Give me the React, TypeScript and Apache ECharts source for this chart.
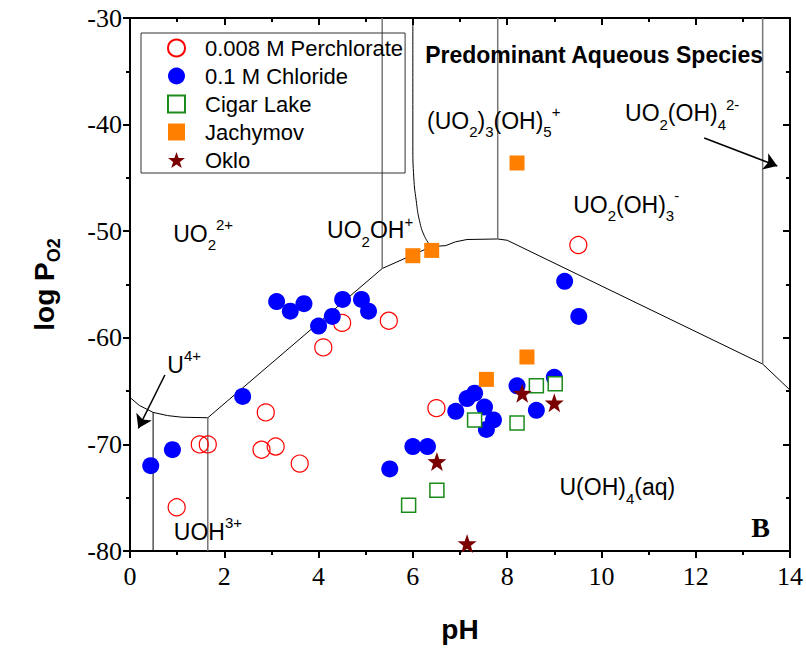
import React, { useEffect, useRef } from 'react';
import * as echarts from 'echarts';

// Measured uranium solubility points: [pH, log PO2]
const perchlorate = [
  [0.99, -75.9], [1.48, -70.0], [1.65, -70.0], [2.88, -67.0], [2.79, -70.5],
  [3.09, -70.2], [3.6, -71.8], [4.1, -60.9], [4.5, -58.6], [5.49, -58.4],
  [6.5, -66.6], [9.51, -51.3],
];
const chloride = [
  [0.44, -72.0], [0.9, -70.5], [2.39, -65.5], [3.11, -56.6], [3.4, -57.5],
  [3.69, -56.8], [4.0, -58.9], [4.29, -58.0], [4.51, -56.4], [4.91, -56.4],
  [5.06, -57.5], [5.51, -72.3], [6.0, -70.2], [6.31, -70.2], [6.91, -66.9],
  [7.15, -65.7], [7.31, -65.2], [7.52, -66.5], [7.71, -67.7], [7.56, -68.6],
  [8.21, -64.5], [8.62, -66.8], [9.0, -63.7], [9.22, -54.7], [9.52, -58.0],
];
const cigarLake = [
  [5.91, -75.7], [6.51, -74.3], [7.31, -67.7], [8.21, -68.0], [8.62, -64.5], [9.02, -64.3],
];
const jachymov = [
  [6.0, -52.3], [6.4, -51.8], [8.21, -43.6], [7.56, -63.9], [8.42, -61.8],
];
const oklo = [
  [6.51, -71.6], [7.15, -79.3], [8.32, -65.2], [9.0, -66.1],
];

// Predominance boundaries
const uivBoundary = [
  [0, -65.6], [0.2, -66.35], [0.49, -67.0], [0.8, -67.3], [1.1, -67.45], [1.65, -67.5],
  [5.35, -53.5], [6.39, -51.45], [6.7, -51.35], [6.9, -51.0], [7.15, -50.78],
  [7.8, -50.73], [8.0, -50.85], [13.42, -62.46], [14, -64.9],
];
const trimerBoundary = [
  [6.0, -30], [6.0, -42], [6.02, -45], [6.07, -47.1], [6.14, -49.0], [6.25, -50.5], [6.39, -51.45],
];
const uBoundary = [[0.49, -67.0], [0.49, -80]];
const uohBoundary = [[1.65, -67.5], [1.65, -80]];
const uo2Boundary = [[5.35, -30], [5.35, -53.5]];
const hydroxo3Boundary = [[7.8, -30], [7.8, -50.73]];
const hydroxo4Boundary = [[13.42, -30], [13.42, -62.46]];

// Species names anchored at their left edge
const speciesLabels = [
  { at: [0.905, -50.22], text: '{m|UO}{b|2}{p|2+}' },
  { at: [4.17, -49.9], text: '{m|UO}{b|2}{m|OH}{p|+}' },
  { at: [6.29, -39.66], text: '{m|(UO}{b|2}{m|)}{b|3}{m|(OH)}{b|5}{p|+}' },
  { at: [10.49, -38.94], text: '{m|UO}{b|2}{m|(OH)}{b|4}{p|2-}' },
  { at: [9.39, -47.54], text: '{m|UO}{b|2}{m|(OH)}{b|3}{p|-}' },
  { at: [0.78, -62.55], text: '{m|U}{p|4+}' },
  { at: [0.92, -78.19], text: '{m|UOH}{p|3+}' },
  { at: [9.1, -74.04], text: '{m|U(OH)}{b|4}{m|(aq)}' },
  { at: [6.25, -33.5], text: '{t|Predominant Aqueous Species}' },
  { at: [13.17, -77.75], text: '{k|B}' },
];

const arrows = [
  [[0.74, -63.49], [0.176, -68.49]],
  [[12.18, -41.26], [13.73, -43.88]],
];

const seriesNames = ['0.008 M Perchlorate', '0.1 M Chloride', 'Cigar Lake', 'Jachymov', 'Oklo'];

const starPath =
  'path://M0,-10L2.35,-3.24L9.51,-3.09L3.8,1.24L5.88,8.09L0,4L-5.88,8.09L-3.8,1.24L-9.51,-3.09L-2.35,-3.24Z';

const SANS = 'Liberation Sans, Arial, sans-serif';
const SERIF = 'Liberation Serif, Times New Roman, serif';

function boundary(data: number[][], color: string, width: number, smooth = false) {
  return {
    type: 'line',
    data,
    showSymbol: false,
    symbol: 'none',
    smooth,
    silent: true,
    lineStyle: { color, width },
    z: 1,
  };
}

export default function App() {
  const ref = useRef<HTMLDivElement>(null);

  useEffect(() => {
    if (!ref.current) return;
    const chart = echarts.init(ref.current, undefined, { renderer: 'svg' });

    const axisBase = {
      type: 'value',
      axisLine: { show: true, onZero: false, lineStyle: { color: '#000', width: 2 } },
      splitLine: { show: false },
      minorSplitLine: { show: false },
    };

    chart.setOption({
      animation: false,
      backgroundColor: '#fff',
      textStyle: { fontFamily: SANS },
      grid: { left: 130, top: 18, right: 15, bottom: 103 },
      legend: {
        data: seriesNames,
        orient: 'vertical',
        left: 141,
        top: 33,
        padding: [4, 2, 2, 26],
        itemWidth: 17,
        itemHeight: 17,
        itemGap: 6,
        borderColor: '#333',
        borderWidth: 1,
        selectedMode: false,
        textStyle: {
          fontFamily: SANS,
          fontSize: 22,
          color: '#000',
          padding: [0, 0, 0, 15],
        },
      },
      xAxis: [
        {
          ...axisBase,
          min: 0,
          max: 14,
          interval: 2,
          position: 'bottom',
          name: 'pH',
          nameLocation: 'middle',
          nameGap: 64,
          nameTextStyle: { fontFamily: SANS, fontSize: 28, fontWeight: 'bold', color: '#000' },
          axisTick: { show: true, length: 7, lineStyle: { color: '#000', width: 2 } },
          minorTick: { show: true, splitNumber: 2, length: 4, lineStyle: { color: '#000', width: 2 } },
          axisLabel: { fontFamily: SERIF, fontSize: 26, color: '#000', margin: 12 },
        },
        {
          ...axisBase,
          min: 0,
          max: 14,
          interval: 2,
          position: 'top',
          axisTick: { show: true, inside: true, length: 7, lineStyle: { color: '#000', width: 2 } },
          minorTick: { show: true, splitNumber: 2, length: 4, lineStyle: { color: '#000', width: 2 } },
          axisLabel: { show: false },
        },
      ],
      yAxis: [
        {
          ...axisBase,
          min: -80,
          max: -30,
          interval: 10,
          position: 'left',
          name: '{a|log P}{s|O2}',
          nameLocation: 'middle',
          nameGap: 71,
          nameRotate: 90,
          nameTextStyle: {
            color: '#000',
            rich: {
              a: { fontFamily: SANS, fontSize: 28, fontWeight: 'bold', lineHeight: 30 },
              s: { fontFamily: SANS, fontSize: 18, fontWeight: 'bold', lineHeight: 18, padding: [20, 0, 0, 0] },
            },
          },
          axisTick: { show: true, length: 7, lineStyle: { color: '#000', width: 2 } },
          minorTick: { show: true, splitNumber: 2, length: 4, lineStyle: { color: '#000', width: 2 } },
          axisLabel: { fontFamily: SERIF, fontSize: 26, color: '#000', margin: 8 },
        },
        {
          ...axisBase,
          min: -80,
          max: -30,
          interval: 10,
          position: 'right',
          axisTick: { show: true, inside: true, length: 7, lineStyle: { color: '#000', width: 2 } },
          minorTick: { show: true, splitNumber: 2, length: 4, lineStyle: { color: '#000', width: 2 } },
          axisLabel: { show: false },
        },
      ],
      series: [
        boundary(uivBoundary, '#000', 1),
        boundary(trimerBoundary, '#000', 1, true),
        boundary(uBoundary, '#000', 1),
        boundary(uohBoundary, '#777', 1.5),
        boundary(uo2Boundary, '#777', 1.5),
        boundary(hydroxo3Boundary, '#777', 1.5),
        boundary(hydroxo4Boundary, '#777', 1.5),
        {
          type: 'scatter',
          data: [],
          silent: true,
          itemStyle: { color: '#000' },
          markLine: {
            silent: true,
            symbol: ['none', 'arrow'],
            symbolSize: 13,
            label: { show: false },
            lineStyle: { color: '#000', width: 1.5, type: 'solid' },
            itemStyle: { color: '#000' },
            data: arrows.map(([a, b]) => [{ coord: a }, { coord: b }]),
          },
        },
        {
          name: seriesNames[0],
          type: 'scatter',
          data: perchlorate,
          symbol: 'circle',
          symbolSize: 17,
          itemStyle: { color: 'rgba(255,255,255,0)', borderColor: '#ff0000', borderWidth: 1.2, opacity: 1 },
          z: 3,
        },
        {
          name: seriesNames[1],
          type: 'scatter',
          data: chloride,
          symbol: 'circle',
          symbolSize: 17,
          itemStyle: { color: '#0000ff', opacity: 1 },
          z: 3,
        },
        {
          name: seriesNames[2],
          type: 'scatter',
          data: cigarLake,
          symbol: 'rect',
          symbolSize: 14,
          itemStyle: { color: '#ffffff', borderColor: '#1a8a1a', borderWidth: 1.5, opacity: 1 },
          z: 3,
        },
        {
          name: seriesNames[3],
          type: 'scatter',
          data: jachymov,
          symbol: 'rect',
          symbolSize: 15,
          itemStyle: { color: '#ff8000', opacity: 1 },
          z: 3,
        },
        {
          name: seriesNames[4],
          type: 'scatter',
          data: oklo,
          symbol: starPath,
          symbolSize: 19,
          itemStyle: { color: '#7a0000', opacity: 1 },
          z: 3,
        },
        {
          type: 'scatter',
          silent: true,
          symbolSize: 1,
          itemStyle: { color: 'rgba(0,0,0,0)' },
          z: 4,
          data: speciesLabels.map((l) => ({ value: l.at, label: { formatter: l.text } })),
          label: {
            show: true,
            position: 'right',
            distance: 0,
            color: '#000',
            opacity: 1,
            rich: {
              m: { fontFamily: SANS, fontSize: 23, lineHeight: 26, color: '#000' },
              b: { fontFamily: SANS, fontSize: 15, lineHeight: 15, padding: [22, 0, 0, 0], color: '#000' },
              p: { fontFamily: SANS, fontSize: 15, lineHeight: 15, padding: [0, 0, 18, 0], color: '#000' },
              t: { fontFamily: SANS, fontSize: 23, fontWeight: 'bold', lineHeight: 26, color: '#000' },
              k: { fontFamily: SERIF, fontSize: 28, fontWeight: 'bold', lineHeight: 30, color: '#000' },
            },
          },
        },
      ],
    });

    return () => chart.dispose();
  }, []);

  return (
    <div
      ref={ref}
      style={{ position: 'fixed', left: 0, top: 0, width: 806, height: 654, background: '#fff' }}
    />
  );
}
